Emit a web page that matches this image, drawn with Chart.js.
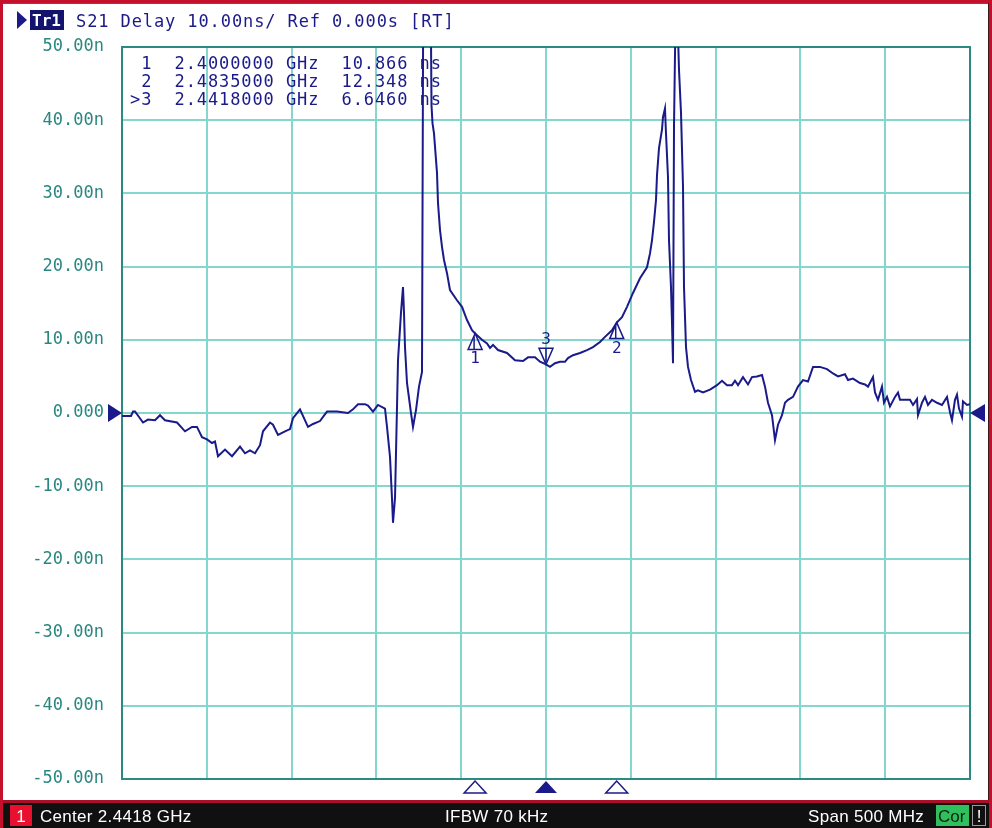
<!DOCTYPE html>
<html>
<head>
<meta charset="utf-8">
<script src="https://cdn.jsdelivr.net/npm/chart.js@4/dist/chart.umd.min.js"></script>
<style>
  html, body { margin: 0; padding: 0; background: #fff; overflow: hidden; }
  #wrap { position: absolute; left: 0; top: 0; width: 992px; height: 828px; }
</style>
</head>
<body>
<div id="wrap"><canvas id="vna" width="992" height="828"></canvas></div>
<script>
// Sweep settings (MHz)
const startMHz = 2191.8;
const stopMHz = 2691.8;
const centerText = 'Center 2.4418 GHz';
const ifbwText = 'IFBW 70 kHz';
const spanText = 'Span 500 MHz';
const titleText = 'S21 Delay 10.00ns/ Ref 0.000s [RT]';

// S21 group delay trace: frequency (MHz) and delay (ns)
const freqMHz = [
  2191.80, 2197.11, 2198.29, 2199.47, 2204.18, 2207.13, 2211.26, 2214.21, 2217.15, 2224.23,
  2228.95, 2233.07, 2236.02, 2238.97, 2241.92, 2244.87, 2246.63, 2248.40, 2252.53, 2256.66,
  2261.38, 2264.32, 2267.27, 2270.22, 2273.17, 2274.94, 2279.06, 2280.83, 2283.78, 2287.91,
  2290.86, 2292.63, 2296.75, 2301.47, 2304.42, 2308.54, 2312.67, 2318.57, 2325.05, 2328.00,
  2330.95, 2335.08, 2336.85, 2339.79, 2342.74, 2346.87, 2348.05, 2349.82, 2351.00, 2351.59,
  2352.77, 2353.95, 2354.54, 2356.30, 2357.48, 2358.07, 2358.66, 2359.84, 2362.20, 2363.38,
  2365.15, 2366.92, 2368.69, 2369.45, 2371.63, 2373.70, 2374.29, 2374.88, 2375.76, 2377.53,
  2378.12, 2379.30, 2380.48, 2381.66, 2383.43, 2385.19, 2389.32, 2392.27, 2395.22, 2398.17,
  2400.00, 2404.06, 2407.01, 2408.78, 2410.55, 2413.50, 2418.80, 2423.52, 2428.24, 2431.19,
  2435.31, 2438.26, 2441.80, 2444.16, 2447.11, 2450.05, 2453.00, 2454.77, 2457.72, 2461.85,
  2465.97, 2469.51, 2473.64, 2476.59, 2480.71, 2483.50, 2486.61, 2489.56, 2493.10, 2497.22,
  2501.35, 2503.12, 2504.30, 2505.48, 2506.66, 2507.25, 2508.43, 2510.19, 2510.78, 2511.96,
  2512.55, 2513.73, 2514.32, 2515.50, 2516.09, 2516.68, 2517.27, 2518.16, 2519.33, 2520.22,
  2521.40, 2522.58, 2523.17, 2524.35, 2525.53, 2527.29, 2529.65, 2531.42, 2534.37, 2538.50,
  2542.62, 2545.57, 2548.52, 2551.47, 2553.24, 2555.01, 2557.95, 2560.90, 2563.26, 2566.21,
  2569.16, 2570.93, 2572.69, 2575.05, 2576.82, 2578.59, 2580.95, 2582.72, 2584.49, 2587.44,
  2590.38, 2593.33, 2596.28, 2599.23, 2603.35, 2607.48, 2611.02, 2613.97, 2618.09, 2619.86,
  2622.81, 2626.94, 2629.89, 2631.66, 2634.60, 2635.78, 2637.55, 2639.91, 2641.09, 2642.86,
  2644.63, 2647.58, 2649.35, 2650.52, 2656.42, 2658.19, 2660.55, 2661.14, 2663.50, 2665.26,
  2667.03, 2669.39, 2672.34, 2675.29, 2678.24, 2680.01, 2681.18, 2682.95, 2684.13, 2685.31,
  2687.08, 2687.67, 2690.03, 2691.80
];
const delayNs = [
  -0.4, -0.4, 0.2, 0.2, -1.3, -0.9, -1.0, -0.3, -1.0, -1.3,
  -2.5, -1.9, -1.9, -3.3, -3.6, -4.1, -3.9, -5.9, -5.0, -5.9,
  -4.6, -5.5, -5.1, -5.5, -4.4, -2.5, -1.3, -1.6, -3.0, -2.5,
  -2.2, -0.7, 0.5, -1.9, -1.5, -1.1, 0.2, 0.2, 0.0, 0.5,
  1.2, 1.2, 1.0, 0.2, 1.1, 0.6, -1.9, -6.0, -11.7, -15.0,
  -11.6, 0.8, 7.2, 13.7, 17.2, 13.7, 9.0, 4.1, 0.0, -1.9,
  0.4, 3.6, 5.6, 60.0, 64.0, 60.0, 42.0, 39.6, 38.2, 32.8,
  28.7, 25.0, 22.7, 20.9, 19.1, 16.8, 15.4, 14.5, 12.7, 11.3,
  10.866, 10.0, 9.5, 8.9, 9.3, 8.6, 8.2, 7.2, 7.1, 7.6,
  7.6, 7.0, 6.646, 6.3, 6.8, 7.0, 7.0, 7.5, 7.9, 8.2,
  8.6, 9.0, 9.7, 10.4, 11.3, 12.348, 13.1, 14.5, 16.4, 18.4,
  19.9, 21.8, 23.6, 26.1, 29.1, 32.5, 36.2, 38.7, 40.4, 41.6,
  38.2, 32.2, 23.6, 17.2, 12.3, 6.8, 39.1, 54.0, 54.0, 46.9,
  41.0, 30.9, 17.2, 9.0, 6.3, 4.5, 2.9, 3.1, 2.8, 3.2,
  3.8, 4.4, 3.8, 3.8, 4.4, 3.8, 4.9, 3.9, 4.9, 5.0,
  5.2, 3.6, 1.4, -0.3, -3.7, -1.6, -0.3, 1.4, 1.8, 2.2,
  3.6, 4.5, 4.3, 6.3, 6.3, 6.0, 5.4, 5.0, 5.3, 4.5,
  4.7, 4.1, 3.9, 3.6, 4.9, 2.8, 1.8, 3.6, 1.4, 2.2,
  0.9, 2.2, 2.8, 1.8, 1.8, 1.1, 1.9, -0.3, 1.4, 2.2,
  1.1, 1.8, 1.4, 1.1, 2.2, 0.1, -1.0, 1.8, 2.5, 0.6,
  -0.5, 1.6, 1.1, 1.2
];

// Markers
const markerIds = ['1', '2', '3'];
const markerMHz = [2400.0, 2483.5, 2441.8];
const markerNs = [10.866, 12.348, 6.646];
const activeMarker = 2; // index of marker 3

// Axis settings
const yMin = -50, yMax = 50, yStep = 10;
const xDivisions = 10;

const NAVY = '#1a1a8a';
const GRID = '#84d6cf';
const FRAME = '#2c8a83';
const LABEL = '#2a877f';
const MONO = '"DejaVu Sans Mono", "Liberation Mono", monospace';

function fmtDelay(v) {
  if (v === 0) return '0.000';
  return v.toFixed(2) + 'n';
}

function tri(ctx, pts, fill) {
  ctx.beginPath();
  ctx.moveTo(pts[0][0], pts[0][1]);
  for (let i = 1; i < pts.length; i++) ctx.lineTo(pts[i][0], pts[i][1]);
  ctx.closePath();
  if (fill) ctx.fill(); else ctx.stroke();
}

const vnaDecor = {
  id: 'vnaDecor',
  beforeDraw(chart) {
    const ctx = chart.ctx;
    ctx.save();
    ctx.fillStyle = '#ffffff';
    ctx.fillRect(0, 0, chart.width, chart.height);
    // window frame
    ctx.fillStyle = '#c4102c';
    ctx.fillRect(0, 0, chart.width, 3);
    ctx.fillRect(0, 0, 3, chart.height);
    ctx.fillRect(chart.width - 3, 0, 3, chart.height);
    ctx.fillStyle = '#2e6a66';
    ctx.fillRect(3, 3, chart.width - 6, 1);
    ctx.fillStyle = '#3a1a1a';
    ctx.fillRect(chart.width - 4, 3, 1, 797);
    ctx.restore();
  },
  beforeDatasetsDraw(chart) {
    const { ctx, chartArea: a } = chart;
    ctx.save();
    ctx.strokeStyle = FRAME;
    ctx.lineWidth = 2;
    ctx.strokeRect(a.left, a.top, a.right - a.left, a.bottom - a.top);
    ctx.restore();
  },
  afterDatasetsDraw(chart) {
    const { ctx, chartArea: a, scales } = chart;
    const xs = scales.x, ys = scales.y;
    ctx.save();
    ctx.strokeStyle = NAVY;
    ctx.fillStyle = NAVY;
    ctx.lineWidth = 1.5;
    ctx.font = '16px ' + MONO;
    ctx.textAlign = 'center';
    ctx.textBaseline = 'alphabetic';
    markerIds.forEach((id, i) => {
      const px = xs.getPixelForValue(markerMHz[i]);
      const py = ys.getPixelForValue(markerNs[i]);
      if (i === activeMarker) {
        tri(ctx, [[px, py], [px - 7, py - 16], [px + 7, py - 16]], false);
        ctx.beginPath(); ctx.moveTo(px, py - 16); ctx.lineTo(px, py - 2); ctx.stroke();
        ctx.fillText(id, px, py - 20);
      } else {
        tri(ctx, [[px, py], [px - 7, py + 16], [px + 7, py + 16]], false);
        ctx.beginPath(); ctx.moveTo(px - 1, py + 3); ctx.lineTo(px - 1, py + 16); ctx.stroke();
        ctx.fillText(id, px, py + 30);
      }
      // stimulus marker under the grid
      const yb = a.bottom + 1;
      const pts = [[px, yb + 1], [px - 11, yb + 13], [px + 11, yb + 13]];
      if (i === activeMarker) tri(ctx, pts, true); else tri(ctx, pts, false);
    });
    // reference level arrows
    const y0 = ys.getPixelForValue(0);
    tri(ctx, [[a.left, y0], [a.left - 14, y0 - 9], [a.left - 14, y0 + 9]], true);
    tri(ctx, [[a.right, y0], [a.right + 15, y0 - 9], [a.right + 15, y0 + 9]], true);
    ctx.restore();
  },
  afterDraw(chart) {
    const ctx = chart.ctx;
    const W = chart.width;
    ctx.save();
    // trace title line
    ctx.fillStyle = NAVY;
    tri(ctx, [[17, 11], [17, 29], [27, 20]], true);
    ctx.fillStyle = '#14146e';
    ctx.fillRect(30, 10, 34, 20);
    ctx.fillStyle = '#ffffff';
    ctx.font = 'bold 16px ' + MONO;
    ctx.textAlign = 'left';
    ctx.textBaseline = 'alphabetic';
    ctx.fillText('Tr1', 32, 26);
    ctx.fillStyle = NAVY;
    ctx.font = '17px ' + MONO;
    ctx.letterSpacing = '0.9px';
    ctx.fillText(titleText, 76, 27);
    // marker readout table
    markerIds.forEach((id, i) => {
      const prefix = (i === activeMarker ? '>' : ' ') + id;
      const f = (markerMHz[i] / 1000).toFixed(7);
      const v = markerNs[i].toPrecision(5).padStart(6, ' ');
      ctx.fillText(prefix + '  ' + f + ' GHz  ' + v + ' ns', 130, 69 + i * 18);
    });
    ctx.letterSpacing = '0px';
    // status bar
    ctx.fillStyle = '#a8102a';
    ctx.fillRect(0, 800, W, 3);
    ctx.fillStyle = '#101010';
    ctx.fillRect(0, 803, W, 25);
    ctx.fillStyle = '#c4102c';
    ctx.fillRect(0, 800, 3, 28);
    ctx.fillRect(W - 3, 800, 3, 28);
    ctx.fillStyle = '#e8102e';
    ctx.fillRect(10, 805, 22, 21);
    ctx.font = '17px "Liberation Sans", Arial, sans-serif';
    ctx.fillStyle = '#ffffff';
    ctx.textAlign = 'center';
    ctx.fillText('1', 21, 822);
    ctx.textAlign = 'left';
    ctx.letterSpacing = '0.3px';
    ctx.fillText(centerText, 40, 822);
    ctx.fillText(ifbwText, 445, 822);
    ctx.fillText(spanText, 808, 822);
    ctx.letterSpacing = '0px';
    ctx.fillStyle = '#2fbf5c';
    ctx.fillRect(936, 805, 33, 21);
    ctx.fillStyle = '#0c2010';
    ctx.fillText('Cor', 938, 822);
    ctx.strokeStyle = '#9a9a9a';
    ctx.lineWidth = 1;
    ctx.strokeRect(972.5, 805.5, 13, 20);
    ctx.fillStyle = '#ffffff';
    ctx.textAlign = 'center';
    ctx.fillText('!', 979, 822);
    ctx.restore();
  }
};

const gridMHz = Array.from({ length: xDivisions + 1 },
  (_, i) => startMHz + i * (stopMHz - startMHz) / xDivisions);

new Chart(document.getElementById('vna'), {
  type: 'line',
  data: {
    datasets: [{
      label: 'S21 Delay',
      data: freqMHz.map((f, i) => ({ x: f, y: delayNs[i] })),
      borderColor: NAVY,
      borderWidth: 2,
      pointRadius: 0,
      tension: 0,
      fill: false
    }]
  },
  options: {
    responsive: false,
    animation: false,
    devicePixelRatio: 1,
    layout: { padding: { left: 0, top: 47, right: 22, bottom: 49 } },
    plugins: { legend: { display: false }, tooltip: { enabled: false } },
    scales: {
      x: {
        type: 'linear',
        min: startMHz,
        max: stopMHz,
        afterBuildTicks: (s) => { s.ticks = gridMHz.map(v => ({ value: v })); },
        afterFit: (s) => { s.height = 0; },
        ticks: { display: false },
        grid: { color: GRID, lineWidth: 2, drawTicks: false },
        border: { display: false }
      },
      y: {
        min: yMin,
        max: yMax,
        afterFit: (s) => { s.width = 122; },
        ticks: {
          stepSize: yStep,
          padding: 18,
          color: LABEL,
          font: { family: MONO, size: 17 },
          callback: (v) => fmtDelay(v)
        },
        grid: { color: GRID, lineWidth: 2, drawTicks: false },
        border: { display: false }
      }
    }
  },
  plugins: [vnaDecor]
});
</script>
</body>
</html>
